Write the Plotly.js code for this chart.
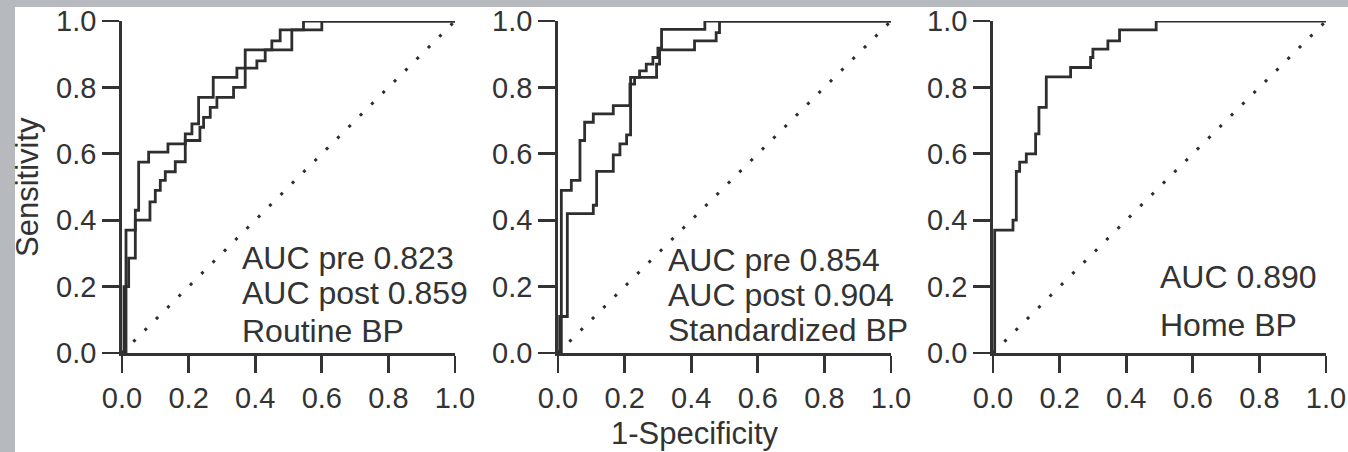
<!DOCTYPE html>
<html>
<head>
<meta charset="utf-8">
<script src="https://cdn.plot.ly/plotly-3.0.1.min.js"></script>
<style>html,body{margin:0;padding:0;background:#fff;}#chart{width:1348px;height:452px;}</style>
</head>
<body>
<div id="chart"></div>
<script>
// ---- Data (ROC step curves) ----
var tickVals = [0, 0.2, 0.4, 0.6, 0.8, 1.0];
var tickText = ['0.0', '0.2', '0.4', '0.6', '0.8', '1.0'];

// Panel 1: Routine BP (two ROC curves, pre and post)
var routineCurveAX = [0,0.006,0.006,0.02,0.02,0.04,0.04,0.05,0.05,0.08,0.08,0.138,0.138,0.19,0.19,0.21,0.21,0.23,0.23,0.274,0.274,0.345,0.345,0.405,0.405,0.43,0.43,0.45,0.45,0.475,0.475,0.6,0.6,1];
var routineCurveAY = [0,0,0.2,0.2,0.286,0.286,0.43,0.43,0.575,0.575,0.605,0.605,0.63,0.63,0.66,0.66,0.69,0.69,0.77,0.77,0.83,0.83,0.858,0.858,0.88,0.88,0.913,0.913,0.94,0.94,0.973,0.973,1,1];
var routineCurveBX = [0,0.012,0.012,0.04,0.04,0.084,0.084,0.1,0.1,0.115,0.115,0.13,0.13,0.16,0.16,0.19,0.19,0.234,0.234,0.245,0.245,0.265,0.265,0.285,0.285,0.335,0.335,0.37,0.37,0.51,0.51,0.545,0.545,1];
var routineCurveBY = [0,0,0.37,0.37,0.40,0.40,0.455,0.455,0.49,0.49,0.52,0.52,0.546,0.546,0.576,0.576,0.64,0.64,0.68,0.68,0.71,0.71,0.74,0.74,0.77,0.77,0.8,0.8,0.913,0.913,0.973,0.973,1,1];

// Panel 2: Standardized BP
var standardCurveAX = [0,0.01,0.01,0.04,0.04,0.066,0.066,0.08,0.08,0.106,0.106,0.166,0.166,0.216,0.216,0.23,0.23,0.245,0.245,0.265,0.265,0.285,0.285,0.3,0.3,0.311,0.311,0.441,0.441,1];
var standardCurveAY = [0,0,0.49,0.49,0.52,0.52,0.64,0.64,0.695,0.695,0.72,0.72,0.745,0.745,0.81,0.81,0.83,0.83,0.85,0.85,0.87,0.87,0.89,0.89,0.918,0.918,0.975,0.975,1,1];
var standardCurveBX = [0,0.005,0.005,0.028,0.028,0.106,0.106,0.116,0.116,0.166,0.166,0.186,0.186,0.206,0.206,0.218,0.218,0.296,0.296,0.305,0.305,0.41,0.41,0.475,0.475,0.485,0.485,1];
var standardCurveBY = [0,0,0.11,0.11,0.42,0.42,0.445,0.445,0.547,0.547,0.597,0.597,0.63,0.63,0.657,0.657,0.83,0.83,0.87,0.87,0.913,0.913,0.94,0.94,0.965,0.965,1,1];

// Panel 3: Home BP
var homeCurveX = [0,0.005,0.005,0.06,0.06,0.07,0.07,0.08,0.08,0.1,0.1,0.128,0.128,0.138,0.138,0.16,0.16,0.233,0.233,0.293,0.293,0.3,0.3,0.345,0.345,0.38,0.38,0.49,0.49,1];
var homeCurveY = [0,0,0.37,0.37,0.4,0.4,0.547,0.547,0.575,0.575,0.6,0.6,0.66,0.66,0.74,0.74,0.832,0.832,0.86,0.86,0.89,0.89,0.915,0.915,0.94,0.94,0.973,0.973,1,1];

var chanceX = [0, 1];
var chanceY = [0, 1];

var panelLabels = [
  ['AUC pre 0.823', 'AUC post 0.859', 'Routine BP'],
  ['AUC pre 0.854', 'AUC post 0.904', 'Standardized BP'],
  ['AUC 0.890', 'Home BP']
];
var xTitle = '1-Specificity';
var yTitle = 'Sensitivity';

// ---- Styling / layout ----
var W = 1348, H = 452;
var FONT = 'Liberation Sans, Arial, Helvetica, sans-serif';
var INK = '#333333';
var panelLeft = [122, 558, 993];
var panelSize = 333;
var plotTop = 21, plotBottom = 353;

function px2x(p) { return p / W; }
function py2y(p) { return 1 - p / H; }

function curve(x, y, axisIdx) {
  var s = axisIdx === 1 ? '' : String(axisIdx);
  return {x: x, y: y, xaxis: 'x' + s, yaxis: 'y' + s, type: 'scatter', mode: 'lines',
    line: {color: '#2e2e2e', width: 2.8}, hoverinfo: 'skip', showlegend: false};
}
function diag(axisIdx) {
  var s = axisIdx === 1 ? '' : String(axisIdx);
  return {x: chanceX, y: chanceY, xaxis: 'x' + s, yaxis: 'y' + s, type: 'scatter', mode: 'lines',
    line: {color: '#2e2e2e', width: 3, dash: '3px,13px'}, hoverinfo: 'skip', showlegend: false};
}

var traces = [
  diag(1), diag(2), diag(3),
  curve(routineCurveBX, routineCurveBY, 1),
  curve(routineCurveAX, routineCurveAY, 1),
  curve(standardCurveBX, standardCurveBY, 2),
  curve(standardCurveAX, standardCurveAY, 2),
  curve(homeCurveX, homeCurveY, 3)
];

function axisBase(domain) {
  return {
    domain: domain, range: [0, 1], showline: true, linecolor: INK, linewidth: 2.8,
    ticks: 'outside', ticklen: 17, tickwidth: 2.8, tickcolor: INK,
    tickmode: 'array', tickvals: tickVals, ticktext: tickText,
    tickfont: {family: FONT, size: 29, color: INK},
    showgrid: false, zeroline: false, fixedrange: true
  };
}

var yDom = [py2y(plotBottom), py2y(plotTop)];
var layout = {
  width: W, height: H,
  margin: {l: 0, r: 0, t: 0, b: 0, pad: 0},
  paper_bgcolor: '#ffffff', plot_bgcolor: 'rgba(0,0,0,0)',
  showlegend: false,
  xaxis: Object.assign(axisBase([px2x(panelLeft[0]), px2x(panelLeft[0] + panelSize)]), {anchor: 'y'}),
  yaxis: Object.assign(axisBase(yDom), {anchor: 'x'}),
  xaxis2: Object.assign(axisBase([px2x(panelLeft[1]), px2x(panelLeft[1] + panelSize)]), {anchor: 'y2'}),
  yaxis2: Object.assign(axisBase(yDom), {anchor: 'x2'}),
  xaxis3: Object.assign(axisBase([px2x(panelLeft[2]), px2x(panelLeft[2] + panelSize)]), {anchor: 'y3'}),
  yaxis3: Object.assign(axisBase(yDom), {anchor: 'x3'}),
  shapes: [
    {type: 'rect', xref: 'paper', yref: 'paper', x0: 0, x1: px2x(15), y0: 0, y1: 1, line: {width: 0}, fillcolor: '#b6babe', layer: 'above'},
    {type: 'rect', xref: 'paper', yref: 'paper', x0: 0, x1: 1, y0: py2y(7), y1: 1, line: {width: 0}, fillcolor: '#b6babe', layer: 'above'}
  ],
  annotations: []
};

// in-panel labels
var labelPos = [
  {left: 240, centers: [258, 293, 331]},
  {left: 666, centers: [260, 295, 330]},
  {left: 1158, centers: [277, 325]}
];
panelLabels.forEach(function (lines, i) {
  lines.forEach(function (t, j) {
    layout.annotations.push({
      text: t, xref: 'paper', yref: 'paper', x: px2x(labelPos[i].left), y: py2y(labelPos[i].centers[j]),
      xanchor: 'left', yanchor: 'middle', showarrow: false,
      font: {family: FONT, size: 32, color: INK}
    });
  });
});

layout.annotations.push({
  text: yTitle, xref: 'paper', yref: 'paper', x: px2x(28), y: py2y(187), textangle: -90,
  xanchor: 'center', yanchor: 'middle', showarrow: false, font: {family: FONT, size: 31, color: INK}
});
layout.annotations.push({
  text: xTitle, xref: 'paper', yref: 'paper', x: px2x(695), y: py2y(433),
  xanchor: 'center', yanchor: 'middle', showarrow: false, font: {family: FONT, size: 31, color: INK}
});

Plotly.newPlot('chart', traces, layout, {staticPlot: true, displayModeBar: false});
</script>
</body>
</html>
